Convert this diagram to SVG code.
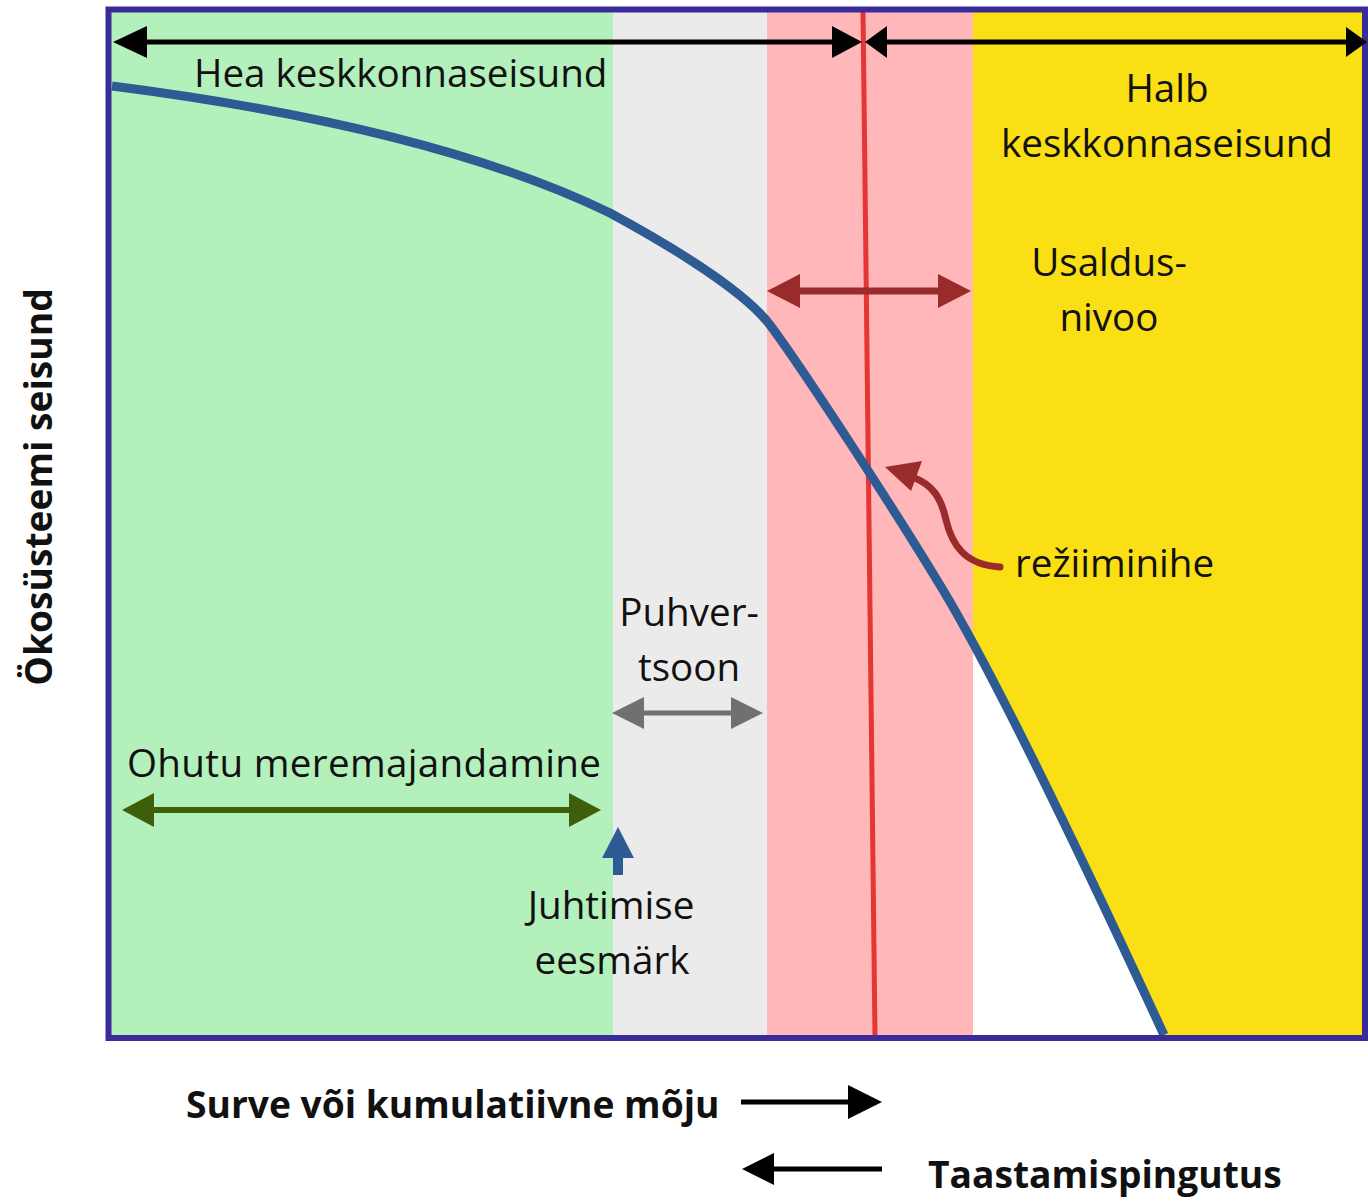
<svg xmlns="http://www.w3.org/2000/svg" width="1368" height="1201" viewBox="0 0 1368 1201">
<defs>
<style>
.lbl{font-family:"Open Sans","Liberation Sans",sans-serif;font-size:38.6px;fill:#111;}
.bold{font-family:"Open Sans","Liberation Sans",sans-serif;font-size:37.2px;font-weight:bold;fill:#111;}
.mid{text-anchor:middle;}
.blk{stroke:#000;stroke-width:5;fill:none;}
.blkh{fill:#000;}
.red{stroke:#992b2b;stroke-width:7;fill:none;stroke-linecap:round;}
.redh{fill:#992b2b;}
.gry{stroke:#707070;stroke-width:5;fill:none;}
.gryh{fill:#707070;}
.grn{stroke:#3f5e0a;stroke-width:6;fill:none;}
.grnh{fill:#3f5e0a;}
.blu{fill:#2f5b94;}
</style>
<clipPath id="rightZone"><rect x="973" y="0" width="395" height="1201"/></clipPath>
</defs>
<rect width="1368" height="1201" fill="#fff"/>
<g id="zones">
<rect id="zone-good" x="108" y="9" width="505" height="1030" fill="#b3f0bb"/>
<rect id="zone-buffer" x="613" y="9" width="154" height="1030" fill="#ebebeb"/>
<rect id="zone-confidence" x="767" y="9" width="206" height="1030" fill="#ffb7ba"/>
<rect id="zone-bad" x="973" y="9" width="395" height="1030" fill="#f9df13"/>
<path d="M943,590 C1003,690 1104,905 1164,1035 L1164,1040 L973,1040 L973,590 Z" fill="#fff" clip-path="url(#rightZone)"/>
</g>
<g id="threshold">
<line x1="863" y1="10" x2="875" y2="1036" stroke="#e53535" stroke-width="5"/>
</g>
<g id="curve">
<path d="M112,86 C300,110 480,150 610,213 C645,232 740,285 770,325 C800,365 893,507 943,590 C1003,690 1104,905 1164,1035" fill="none" stroke="#2f5b94" stroke-width="9"/>
</g>
<g id="frame">
<rect x="108.5" y="9.5" width="1256.5" height="1028.5" fill="none" stroke="#3a2b99" stroke-width="6"/>
</g>
<g id="connectors">
<line class="blk" x1="140" y1="42" x2="835" y2="42"/>
<polygon class="blkh" points="113,42 147,26 147,58"/>
<polygon class="blkh" points="862,42 832,26 832,58"/>
<line class="blk" x1="885" y1="42" x2="1348" y2="42"/>
<polygon class="blkh" points="865,42 887,26 887,58"/>
<polygon class="blkh" points="1367,42 1346,27 1346,57"/>
<line class="red" x1="795" y1="291" x2="942" y2="291"/>
<polygon class="redh" points="767,291 800,274 800,308"/>
<polygon class="redh" points="971,291 938,274 938,308"/>
<path class="red" d="M1000,567 C965,565 952,545 946,520 C941,497 932,484 912,477" stroke-width="6"/>
<polygon class="redh" points="885,467 922,461 911,491"/>
<line class="gry" x1="640" y1="713" x2="735" y2="713"/>
<polygon class="gryh" points="612,713 644,697 644,729"/>
<polygon class="gryh" points="763,713 731,697 731,729"/>
<line class="grn" x1="150" y1="810" x2="572" y2="810"/>
<polygon class="grnh" points="122,810 154,793 154,827"/>
<polygon class="grnh" points="601,810 569,793 569,827"/>
<polygon class="blu" points="618,827 602,858 634,858"/>
<rect class="blu" x="613" y="856" width="10" height="19"/>
<line class="blk" x1="741" y1="1102" x2="850" y2="1102"/>
<polygon class="blkh" points="882,1102 848,1085 848,1119"/>
<line class="blk" x1="770" y1="1169" x2="882" y2="1169"/>
<polygon class="blkh" points="742,1169 774,1153 774,1185"/>
</g>
<g id="labels">
<text id="t-good" class="lbl" x="194" y="87">Hea keskkonnaseisund</text>
<text id="t-bad1" class="lbl mid" x="1167" y="102">Halb</text>
<text id="t-bad2" class="lbl mid" x="1167" y="157">keskkonnaseisund</text>
<text id="t-conf1" class="lbl mid" x="1109" y="276">Usaldus-</text>
<text id="t-conf2" class="lbl mid" x="1109" y="331">nivoo</text>
<text id="t-regime" class="lbl" x="1015" y="577">režiiminihe</text>
<text id="t-buf1" class="lbl mid" x="689" y="626">Puhver-</text>
<text id="t-buf2" class="lbl mid" x="689" y="681">tsoon</text>
<text id="t-safe" class="lbl" x="127" y="777" textLength="474">Ohutu meremajandamine</text>
<text id="t-target1" class="lbl mid" x="611" y="919">Juhtimise</text>
<text id="t-target2" class="lbl mid" x="612" y="974">eesmärk</text>
<text id="t-pressure" class="bold" x="186" y="1118">Surve või kumulatiivne mõju</text>
<text id="t-restore" class="bold" x="928" y="1188">Taastamispingutus</text>
<text id="t-yaxis" class="bold mid" transform="translate(52,487) rotate(-90)">Ökosüsteemi seisund</text>
</g>
</svg>
